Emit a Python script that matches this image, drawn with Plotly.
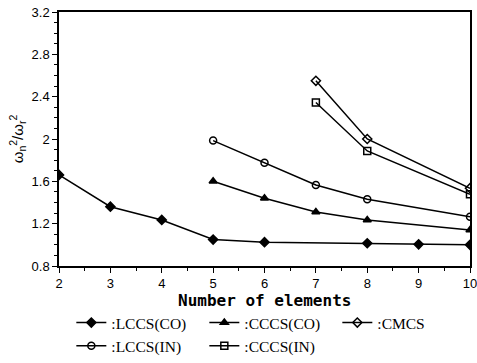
import plotly.graph_objects as go

x_lccs_co = [2, 3, 4, 5, 6, 8, 9, 10]
y_lccs_co = [1.66, 1.36, 1.235, 1.05, 1.025, 1.015, 1.005, 1.0]
x_cccs_co = [5, 6, 7, 8, 10]
y_cccs_co = [1.60, 1.44, 1.31, 1.235, 1.14]
x_cmcs = [7, 8, 10]
y_cmcs = [2.55, 2.00, 1.535]
x_lccs_in = [5, 6, 7, 8, 10]
y_lccs_in = [1.985, 1.775, 1.565, 1.43, 1.265]
x_cccs_in = [7, 8, 10]
y_cccs_in = [2.345, 1.887, 1.478]

series = [
    (":LCCS(CO)", x_lccs_co, y_lccs_co, "diamond", "black"),
    (":CCCS(CO)", x_cccs_co, y_cccs_co, "triangle-up", "black"),
    (":CMCS", x_cmcs, y_cmcs, "diamond-open", "black"),
    (":LCCS(IN)", x_lccs_in, y_lccs_in, "circle-open", "black"),
    (":CCCS(IN)", x_cccs_in, y_cccs_in, "square-open", "black"),
]

fig = go.Figure()
for name, xs, ys, sym, col in series:
    fig.add_trace(go.Scatter(
        x=xs, y=ys, name=name, mode="lines+markers",
        line=dict(color="black", width=1.5),
        marker=dict(symbol=sym, size=7, color=col, line=dict(color="black", width=1.5)),
    ))

fig.update_layout(
    width=477, height=363,
    margin=dict(l=59, r=7, t=12, b=97),
    paper_bgcolor="white", plot_bgcolor="white",
    showlegend=True,
    legend=dict(orientation="h", x=0.03, xanchor="left", yref="container", y=0, yanchor="bottom",
                entrywidth=88, font=dict(family="Liberation Serif", size=15.5, color="black"),
                tracegroupgap=0, itemwidth=30, bgcolor="rgba(0,0,0,0)"),
    font=dict(family="Liberation Sans", color="black"),
    annotations=[dict(text="<b>Number of elements</b>", xref="paper", yref="paper",
                      x=0.5, y=-0.135, xanchor="center", yanchor="middle", showarrow=False,
                      font=dict(size=16, family="DejaVu Sans Mono", color="black"))],
)
fig.update_xaxes(
    range=[2, 10], dtick=1, showgrid=False, zeroline=False, automargin=False,
    ticklabeloverflow="allow",
    showline=True, linecolor="black", linewidth=1.5, mirror=True,
    ticks="outside", ticklen=5, tickcolor="black",
    minor=dict(ticks="outside", ticklen=3, dtick=0.5, tickcolor="black"),
    tickfont=dict(size=13, family="Liberation Sans"),
)
fig.update_yaxes(
    range=[0.8, 3.2], dtick=0.4, showgrid=False, zeroline=False, automargin=False,
    ticklabeloverflow="allow",
    showline=True, linecolor="black", linewidth=1.5, mirror=True,
    ticks="outside", ticklen=5, tickcolor="black",
    minor=dict(ticks="outside", ticklen=3, dtick=0.1, tickcolor="black"),
    tickfont=dict(size=13, family="Liberation Sans"),
    title=dict(text="ω<sub>n</sub><sup>2</sup>/ω<sub>r</sub><sup>2</sup>", font=dict(size=15), standoff=4),
)

fig.write_html("out.html", config={"displayModeBar": False},
               post_script="document.body.style.margin='0';")
